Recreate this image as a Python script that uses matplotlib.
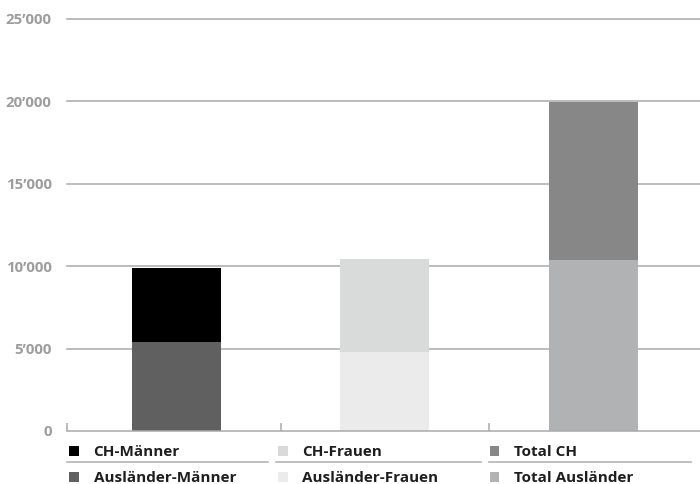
import matplotlib
matplotlib.use("Agg")
import matplotlib.pyplot as plt
from matplotlib.patches import Rectangle
from matplotlib.lines import Line2D

# Stacked values per group (bottom segment, top segment)
groups = ["Männer", "Frauen", "Total"]
bottom_labels = ["Ausländer-Männer", "Ausländer-Frauen", "Total Ausländer"]
top_labels = ["CH-Männer", "CH-Frauen", "Total CH"]
bottom_values = [5400, 4810, 10370]
top_values = [4490, 5630, 9620]
bottom_colors = ["#606060", "#ebebeb", "#b1b2b3"]
top_colors = ["#000000", "#d9dada", "#878787"]

y_ticks = [0, 5000, 10000, 15000, 20000, 25000]
y_tick_labels = ["0", "5’000", "10’000", "15’000", "20’000", "25’000"]

plt.rcParams["font.family"] = ["Open Sans", "DejaVu Sans"]

W, H = 700, 484
fig = plt.figure(figsize=(W / 100, H / 100), dpi=100)
fig.patch.set_facecolor("white")

def fx(px):
    return px / W

def fy(py):
    return (H - py) / H

ax_left, ax_right, ax_top, ax_bottom = 67, 700, 19, 431
ax = fig.add_axes([fx(ax_left), fy(ax_bottom), fx(ax_right - ax_left),
                   fy(ax_top) - fy(ax_bottom)])
ax.set_facecolor("white")

x = list(range(len(groups)))
x_lo, x_hi = -0.525, 2.511
ax.set_xlim(x_lo, x_hi)
ax.set_ylim(0, 25000)

grid_color = "#a9a9a9"
for t in y_ticks[1:]:
    ax.axhline(t, color=grid_color, lw=1.1, zorder=1, clip_on=False)

bar_w = 0.427
ax.bar(x, bottom_values, width=bar_w, color=bottom_colors, zorder=3, linewidth=0)
ax.bar(x, top_values, width=bar_w, bottom=bottom_values, color=top_colors,
       zorder=3, linewidth=0)

for s in ["top", "right", "left"]:
    ax.spines[s].set_visible(False)
ax.spines["bottom"].set_color(grid_color)
ax.spines["bottom"].set_linewidth(1.1)
ax.spines["bottom"].set_zorder(4)

# category separators as small upward ticks
ax.set_xticks([x_lo] + [i + 0.5 for i in range(len(groups) - 1)])
ax.set_xticklabels([])
ax.tick_params(axis="x", direction="in", length=6, width=1.1, color=grid_color)

ax.set_yticks(y_ticks)
ax.set_yticklabels(y_tick_labels)
ax.tick_params(axis="y", length=0, pad=11, labelsize=10.8, labelcolor="#9d9d9d")
for lab in ax.get_yticklabels():
    lab.set_fontweight("bold")

# legend: three columns, two rows, divider under the first row
col_x = [69, 278, 490]
col_sep = [(67, 268), (276, 481), (489, 691)]
row_base = [456, 482]
sq = 9.5
for c in range(3):
    entries = [(top_labels[c], top_colors[c]), (bottom_labels[c], bottom_colors[c])]
    for r, (lab, col) in enumerate(entries):
        base = row_base[r]
        fig.add_artist(Rectangle((fx(col_x[c]), fy(base - 0.3)), fx(sq), sq / H,
                                 transform=fig.transFigure, facecolor=col,
                                 edgecolor="none"))
        fig.text(fx(col_x[c] + 24.5), fy(base), lab, fontsize=11,
                 fontweight="bold", color="#1e1e1e", va="baseline", ha="left")
    x0, x1 = col_sep[c]
    fig.add_artist(Line2D([fx(x0), fx(x1)], [fy(461.7), fy(461.7)],
                          transform=fig.transFigure, color="#b5b5b5", lw=1.2))

fig.savefig("out.png", dpi=100, facecolor="white")
